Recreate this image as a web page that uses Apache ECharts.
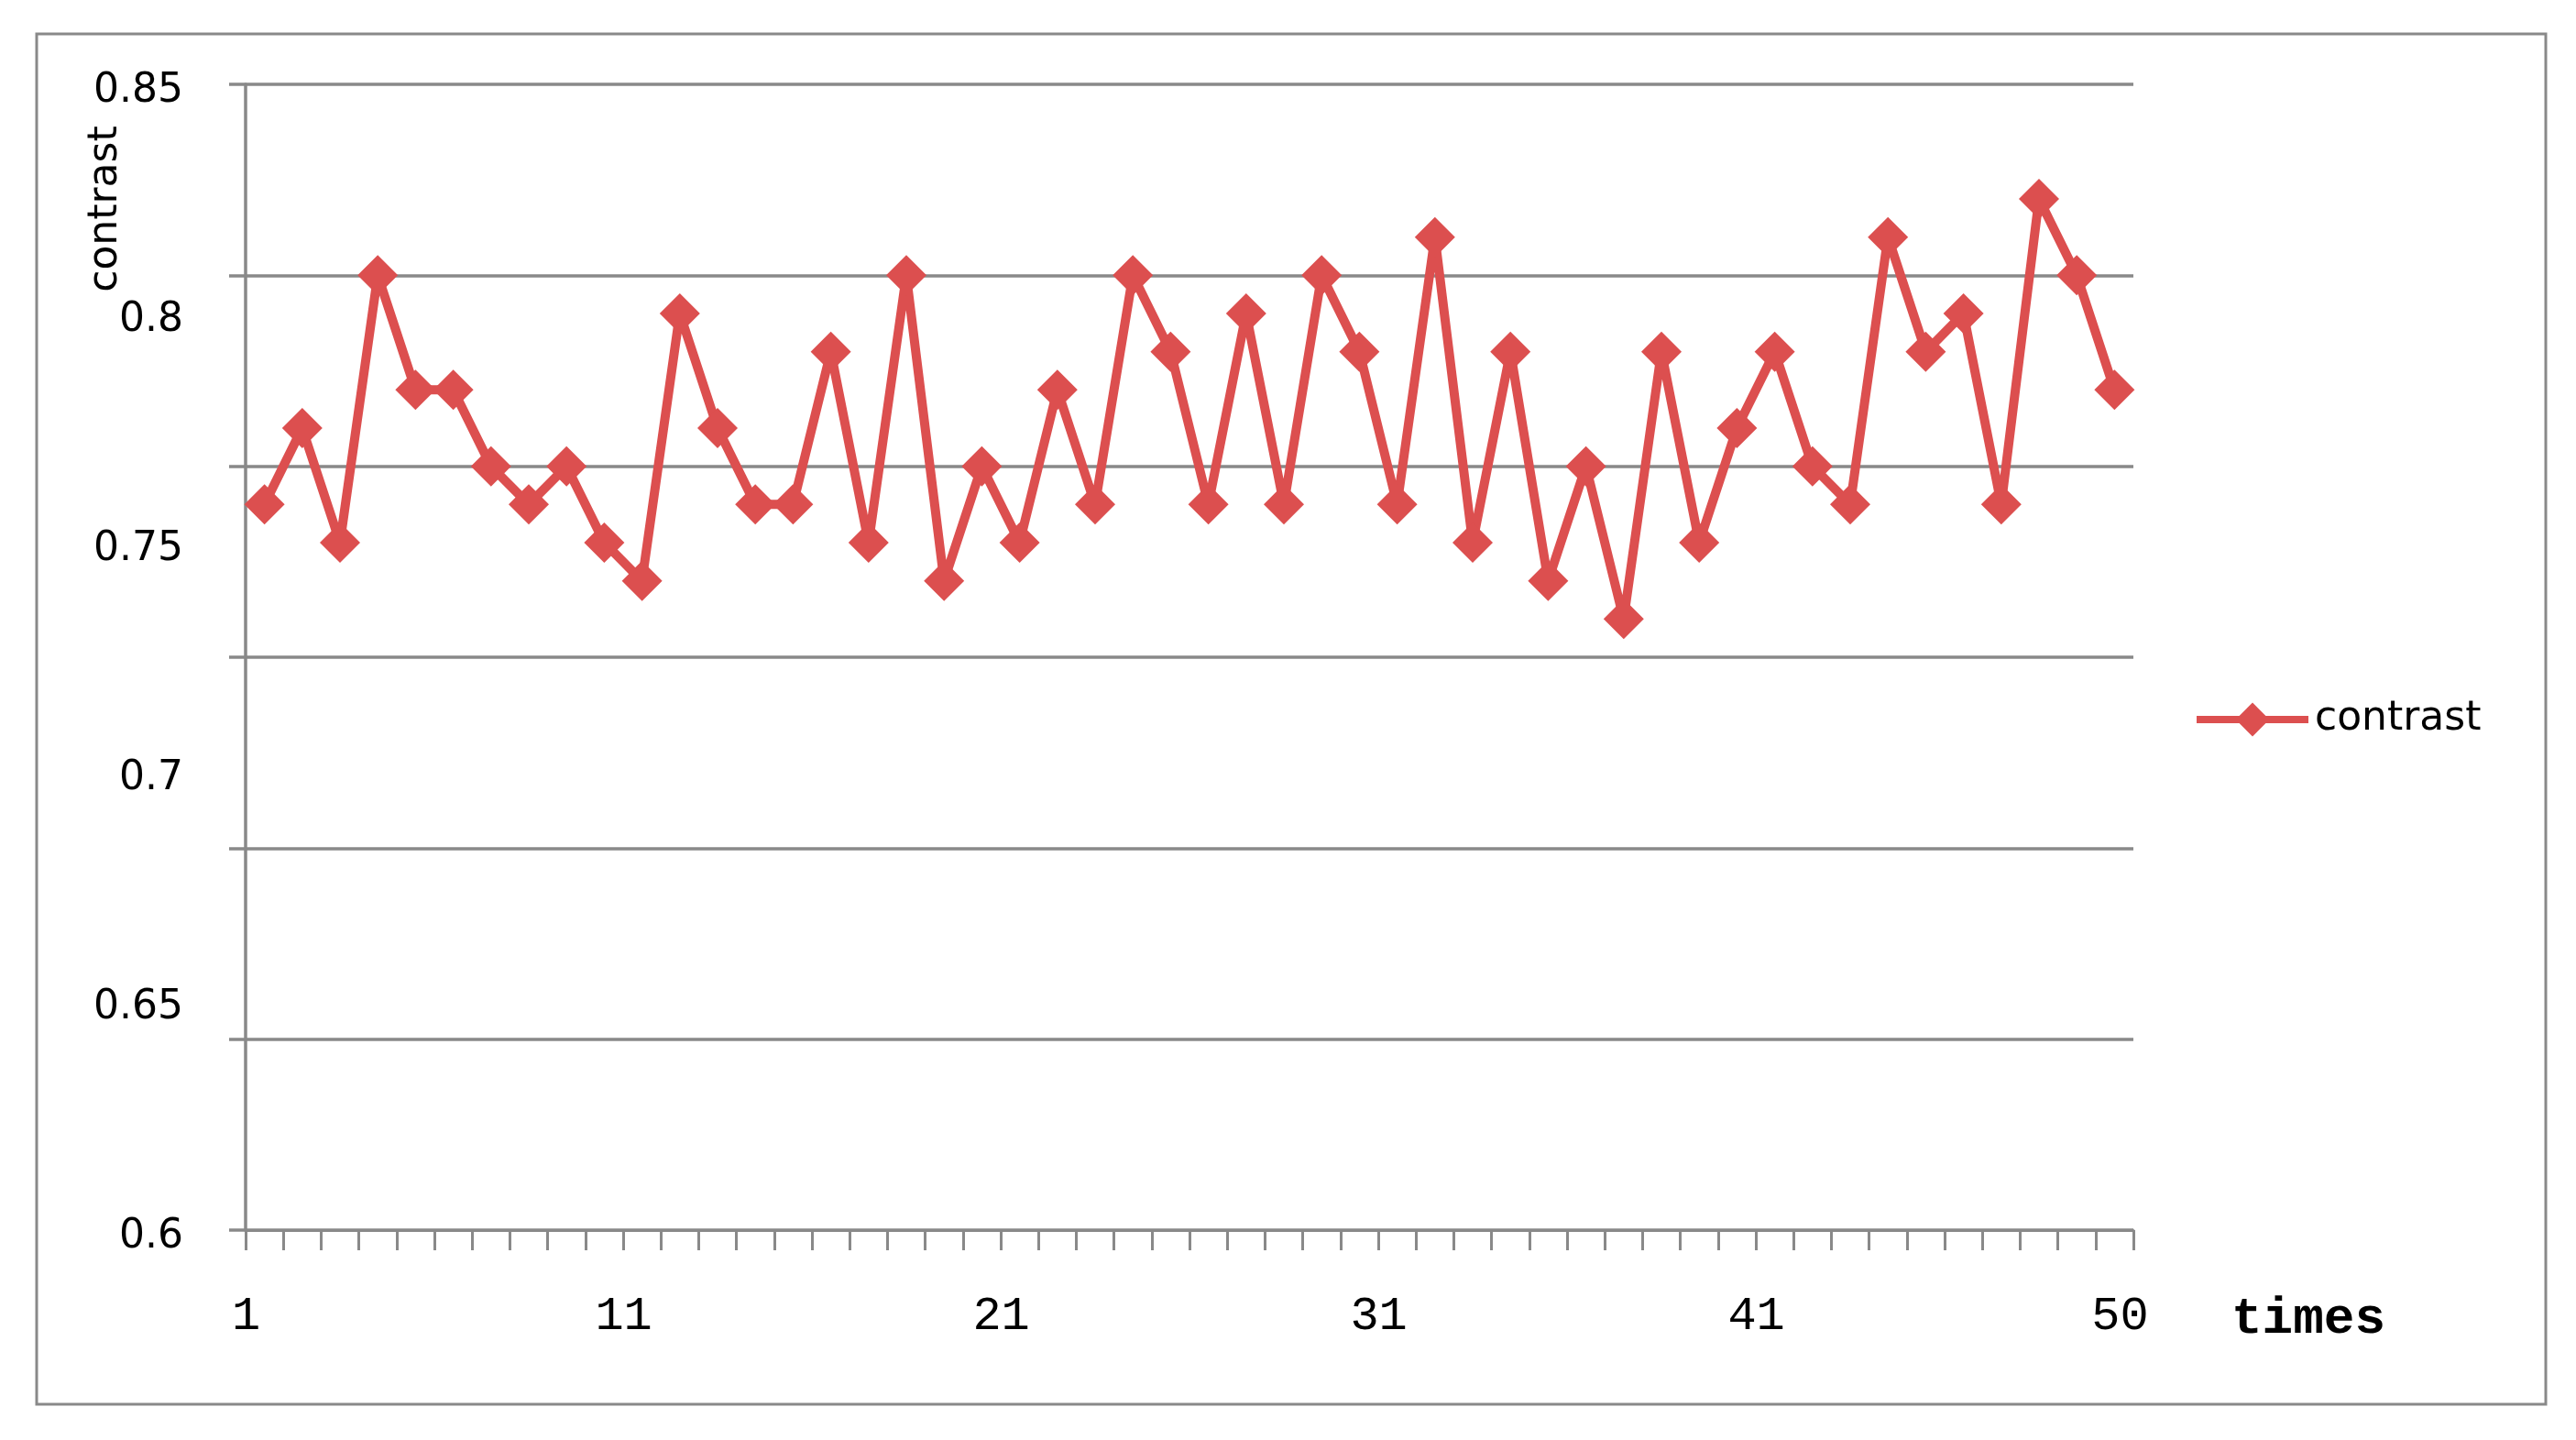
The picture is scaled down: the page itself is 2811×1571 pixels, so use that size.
<!DOCTYPE html>
<html style="height: 100%">
<head>
    <meta charset="utf-8">
    <script src="https://cdn.jsdelivr.net/npm/echarts@6/dist/echarts.min.js"></script>
    <title>contrast</title>
</head>
<body style="height: 100%; margin: 0; background: #ffffff">
<div id="container" style="width: 2811px; height: 1571px"></div>
<script type="text/javascript">

    // x categories (times)
    let times = ['1', '2', '3', '4', '5', '6', '7', '8', '9', '10',
        '11', '12', '13', '14', '15', '16', '17', '18', '19', '20',
        '21', '22', '23', '24', '25', '26', '27', '28', '29', '30',
        '31', '32', '33', '34', '35', '36', '37', '38', '39', '40',
        '41', '42', '43', '44', '45', '46', '47', '48', '49', '50']
    // which category labels are shown under the axis
    let xTickLabels = ['1', '11', '21', '31', '41', '50']
    // contrast values
    let contrast = [0.74, 0.76, 0.73, 0.80, 0.77, 0.77, 0.75, 0.74, 0.75, 0.73,
        0.72, 0.79, 0.76, 0.74, 0.74, 0.78, 0.73, 0.80, 0.72, 0.75,
        0.73, 0.77, 0.74, 0.80, 0.78, 0.74, 0.79, 0.74, 0.80, 0.78,
        0.74, 0.81, 0.73, 0.78, 0.72, 0.75, 0.71, 0.78, 0.73, 0.76,
        0.78, 0.75, 0.74, 0.81, 0.78, 0.79, 0.74, 0.82, 0.80, 0.77]
    // gridline axis and the (differently spaced) printed tick labels
    let gridMin = 0.55, gridMax = 0.85, gridStep = 0.05
    let yTickLabels = [0.6, 0.65, 0.7, 0.75, 0.8, 0.85]

    let red = '#dc4f4f'
    let gray = '#898989'

    let dom = document.getElementById("container");
    let chart = echarts.init(dom);
    chart.setOption({
        animation: false,
        backgroundColor: '#ffffff',
        grid: {left: 268, top: 92, right: 483, bottom: 229},
        graphic: [
            {   // outer frame
                type: 'rect',
                shape: {x: 40, y: 37, width: 2738, height: 1495},
                style: {fill: 'none', stroke: gray, lineWidth: 3},
                silent: true
            },
            {   // y axis title
                type: 'text',
                x: 116, y: 228,
                rotation: Math.PI / 2,
                style: {
                    text: 'contrast', fontFamily: 'DejaVu Sans', fontSize: 44,
                    fill: '#000', align: 'center', verticalAlign: 'middle'
                }
            },
            {   // x axis title
                type: 'text',
                x: 2435, y: 1440,
                style: {
                    text: 'times', fontFamily: 'Liberation Mono', fontWeight: 'bold', fontSize: 56,
                    fill: '#000', align: 'left', verticalAlign: 'middle'
                }
            }
        ],
        legend: {
            data: ['contrast'],
            left: 2388, top: 758,
            itemWidth: 122, itemHeight: 46,
            lineStyle: {width: 8},
            textStyle: {fontFamily: 'DejaVu Sans', fontSize: 44, color: '#000', padding: [0, 0, 0, 2]}
        },
        xAxis: {
            type: 'category',
            data: times,
            boundaryGap: true,
            axisLine: {lineStyle: {color: gray, width: 3}},
            axisTick: {show: true, interval: 0, length: 22, lineStyle: {color: gray, width: 3}},
            axisLabel: {
                interval: (index, value) => xTickLabels.includes(value),
                margin: 68,
                formatter: (value, index) => index === times.length - 1 ? '{e|' + value + '}' : '{s|' + value + '}',
                rich: {
                    s: {fontFamily: 'Liberation Mono', fontSize: 52, color: '#000', padding: [0, 40, 0, 0]},
                    e: {fontFamily: 'Liberation Mono', fontSize: 52, color: '#000', padding: [0, 0, 0, 12]}
                }
            },
            splitLine: {show: false}
        },
        yAxis: [
            {   // gridlines
                type: 'value',
                min: gridMin, max: gridMax, interval: gridStep,
                axisLine: {show: true, lineStyle: {color: gray, width: 3.5}},
                axisTick: {show: true, length: 18, lineStyle: {color: gray, width: 3.5}},
                axisLabel: {show: false},
                splitLine: {lineStyle: {color: gray, width: 3.5}}
            },
            {   // printed labels
                type: 'value',
                position: 'left',
                min: yTickLabels[0], max: yTickLabels[yTickLabels.length - 1], interval: 0.05,
                axisLine: {show: false},
                axisTick: {show: false},
                splitLine: {show: false},
                axisLabel: {
                    margin: 68,
                    formatter: value => '{a|' + value + '}',
                    rich: {
                        a: {fontFamily: 'DejaVu Sans', fontSize: 44, color: '#000', padding: [16, 0, 0, 0]}
                    }
                }
            }
        ],
        series: [
            {
                name: 'contrast',
                type: 'line',
                yAxisIndex: 0,
                data: contrast,
                symbol: 'diamond',
                symbolSize: 44,
                showAllSymbol: true,
                lineStyle: {color: red, width: 10},
                itemStyle: {color: red}
            }
        ]
    });

</script>
</body>
</html>
